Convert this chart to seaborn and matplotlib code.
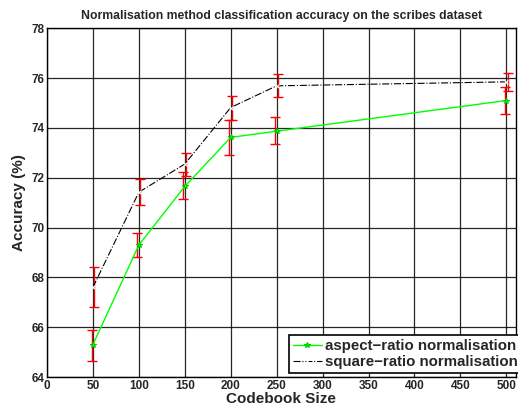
import matplotlib
matplotlib.use('Agg')
import matplotlib.pyplot as plt
import seaborn as sns
import numpy as np
import pandas as pd

# Data
codebook = [50, 100, 150, 200, 250, 500]
aspect_acc = [65.3, 69.3, 71.65, 73.62, 73.87, 75.1]
aspect_lo = [64.64, 68.82, 71.16, 72.93, 73.35, 74.57]
aspect_hi = [65.9, 69.78, 72.22, 74.33, 74.43, 75.63]
square_acc = [67.6, 71.42, 72.55, 74.82, 75.69, 75.85]
square_lo = [66.8, 70.89, 72.09, 74.33, 75.23, 75.49]
square_hi = [68.4, 71.96, 73.0, 75.27, 76.15, 76.21]
xticks = [0, 50, 100, 150, 200, 250, 300, 350, 400, 450, 500]
yticks = [64, 66, 68, 70, 72, 74, 76, 78]

sns.set_style('white')
plt.rcParams['font.family'] = ['Liberation Sans', 'DejaVu Sans']
plt.rcParams['font.weight'] = 'bold'

df = pd.DataFrame({'size': codebook, 'aspect': aspect_acc, 'square': square_acc})

fig = plt.figure(figsize=(5.18, 4.07), dpi=100)
ax = fig.add_axes([47 / 518, 1 - 377 / 407, (515.5 - 47) / 518, (377 - 28.3) / 407])

# error bars (slightly offset like the original)
ax.errorbar(np.array(codebook) - 1.5, aspect_acc,
            yerr=[np.array(aspect_acc) - np.array(aspect_lo), np.array(aspect_hi) - np.array(aspect_acc)],
            fmt='none', ecolor='red', elinewidth=1, capsize=3.6, capthick=1, zorder=3)
ax.errorbar(np.array(codebook) + 1.5, square_acc,
            yerr=[np.array(square_acc) - np.array(square_lo), np.array(square_hi) - np.array(square_acc)],
            fmt='none', ecolor='red', elinewidth=1, capsize=3.6, capthick=1, zorder=3)

sns.lineplot(data=df, x='size', y='aspect', ax=ax, color='#00ff00', linewidth=1,
             marker='*', markersize=4, markeredgecolor='#00cc00',
             label='aspect\u2212ratio normalisation', zorder=4)
sns.lineplot(data=df, x='size', y='square', ax=ax, color='black', linewidth=0.8,
             linestyle='-.', marker='x', markersize=3, markeredgewidth=0.8,
             label='square\u2212ratio normalisation', zorder=4)

ax.set_xlim(0, 510)
ax.set_ylim(64, 78)
ax.set_xticks(xticks)
ax.set_yticks(yticks)
ax.grid(True, color='black', linewidth=0.9, alpha=0.85)
for s in ax.spines.values():
    s.set_color('black')
    s.set_linewidth(1)
ax.tick_params(axis='both', labelsize=8.5, length=3, direction='in', pad=2)
for lab in ax.get_xticklabels() + ax.get_yticklabels():
    lab.set_fontweight('bold')

ax.set_xlabel('Codebook Size', fontsize=11, fontweight='bold', labelpad=0)
ax.set_ylabel('Accuracy (%)', fontsize=11, fontweight='bold', labelpad=4)
ax.set_title('Normalisation method classification accuracy on the scribes dataset',
             fontsize=8.8, fontweight='bold', pad=7)

leg = ax.legend(loc='lower right', bbox_to_anchor=(1.012, 0.012), fontsize=10.8,
                frameon=True, fancybox=False, edgecolor='black', framealpha=1,
                handlelength=1.9, handletextpad=0.2, borderpad=0.25, labelspacing=0.15,
                borderaxespad=0)
leg.get_frame().set_linewidth(1.2)
for t in leg.get_texts():
    t.set_fontweight('bold')

fig.savefig('out.png', dpi=100)
